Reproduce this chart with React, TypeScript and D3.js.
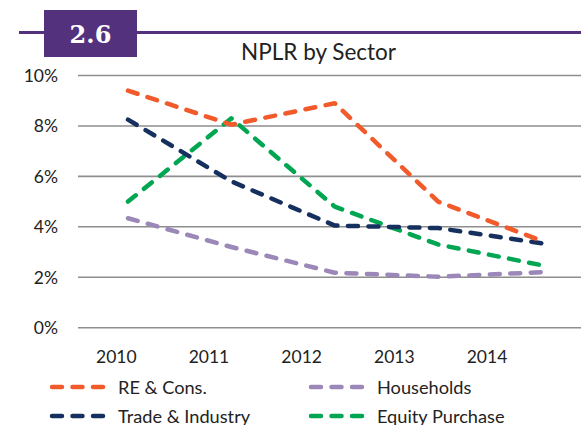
import React from "react";
import * as d3 from "d3";

const years = ["2010", "2011", "2012", "2013", "2014"];
const reCons = [9.4, 8.05, 8.9, 5.0, 3.45];
const tradeIndustry = [8.25, 5.8, 4.05, 3.95, 3.35];
const households = [4.34, 3.2, 2.18, 2.02, 2.2];
const equityPurchase = [5.0, 8.3, 4.8, 3.3, 2.48];
const yTicks = [0, 2, 4, 6, 8, 10];
const seriesNames = ["RE & Cons.", "Households", "Trade & Industry", "Equity Purchase"];
const seriesColors = ["#F15A2B", "#9B87B8", "#15305F", "#00A651"];
const seriesValues = [reCons, households, tradeIndustry, equityPurchase];
const title = "NPLR by Sector";
const badge = "2.6";

export default function App() {
  const W = 581, H = 425;
  const y = d3.scaleLinear().domain([0, 10]).range([327.7, 75.5]);
  const xPts = d3.scalePoint().domain(years).range([128, 541.5]);
  const xLbl = d3.scalePoint().domain(years).range([116.3, 487]);
  const line = d3.line<number>().x((_, i) => xPts(years[i])!).y((d) => y(d));
  const font = "Lato, 'Open Sans', sans-serif";
  const legendPos = [
    [50, 387], [309, 387], [50, 416], [309, 416],
  ];
  return (
    <svg width={W} height={H} style={{ position: "absolute", left: 0, top: 0, background: "#fff" }}>
      <rect width={W} height={H} fill="#fff" />
      <line x1={19} x2={W} y1={32.5} y2={32.5} stroke="#54317D" strokeWidth={3} />
      <rect x={44} y={10} width={93} height={47} fill="#54317D" />
      <text x={90.5} y={43} textAnchor="middle" fill="#fff" fontFamily="'DejaVu Serif', 'Liberation Serif', serif" fontWeight="bold" fontSize={24}>{badge}</text>
      <text x={318.5} y={60} textAnchor="middle" fill="#222" fontFamily={font} fontSize={22.5}>{title}</text>
      {yTicks.map((t) => (
        <g key={t}>
          <line x1={78} x2={W} y1={y(t)} y2={y(t)} stroke="#8E8E8E" strokeWidth={1.6} />
          <text x={58} y={y(t) + 6.5} textAnchor="end" fill="#222" fontFamily={font} fontSize={17.5}>{t}%</text>
        </g>
      ))}
      {years.map((yr) => (
        <text key={yr} x={xLbl(yr)} y={363} textAnchor="middle" fill="#222" fontFamily={font} fontSize={17.5}>{yr}</text>
      ))}
      {[3, 2, 1, 0].map((i) => (
        <path key={i} d={line(seriesValues[i])!} fill="none" stroke={seriesColors[i]} strokeWidth={4.5}
          strokeDasharray="10 10.5" strokeLinecap="round" strokeLinejoin="round" />
      ))}
      {seriesNames.map((n, i) => (
        <g key={n}>
          <line x1={legendPos[i][0] + 2} x2={legendPos[i][0] + 54} y1={legendPos[i][1]} y2={legendPos[i][1]}
            stroke={seriesColors[i]} strokeWidth={4.5} strokeDasharray="10 10.5" strokeLinecap="round" />
          <text x={legendPos[i][0] + 68} y={legendPos[i][1] + 6.5} fill="#222" fontFamily={font} fontSize={18.2}>{n}</text>
        </g>
      ))}
    </svg>
  );
}
